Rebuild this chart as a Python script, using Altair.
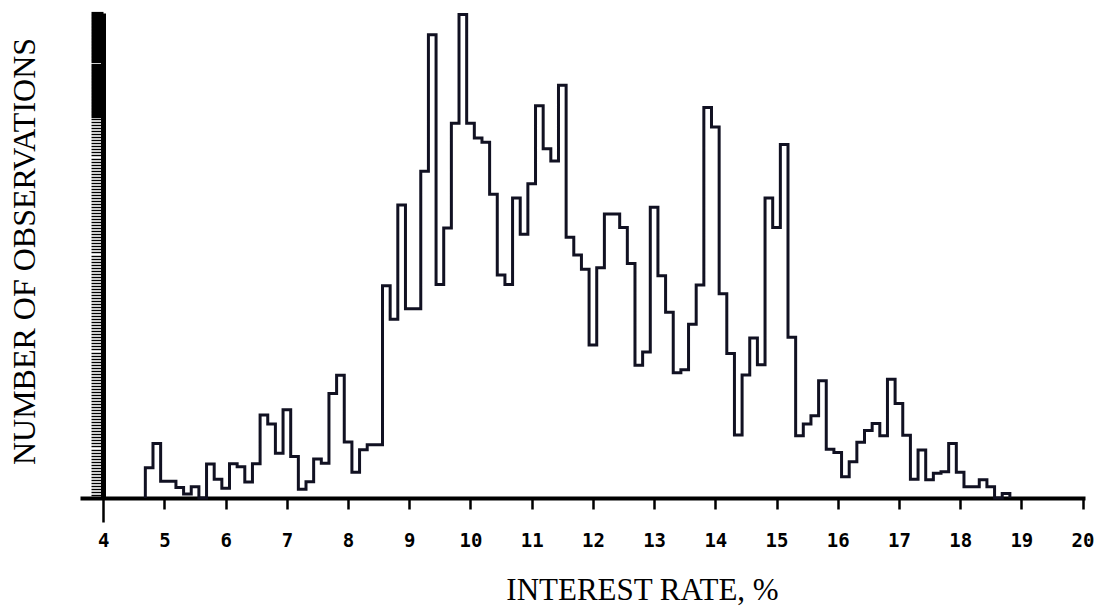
import altair as alt
import pandas as pd

# Histogram of interest rates: bins of 1/8 percent, centred on eighths
first_bin_center = 4.75
bin_width = 0.125
counts = [10, 18, 5.5, 5.5, 3.5, 1.3, 3.7, 0, 11.2, 6.2, 3.2, 11.3, 10.3, 5.3, 11.3,
          27.4, 24.4, 14.8, 29.1, 13.7, 2.9, 5.4, 12.9, 11.5, 34.5, 40.5, 18.5, 8.5,
          15.9, 17.6, 17.6, 70, 59, 96.7, 62.4, 62.4, 107.8, 152.8, 70.4, 89.1, 123.6,
          159.5, 123.6, 118.8, 117.4, 100.2, 73.6, 70.4, 99, 87, 103.7, 129.4, 115.2,
          111.2, 136.2, 86, 80.2, 75.5, 50.5, 76, 93.7, 93.7, 89.2, 77.4, 43.8, 48.2,
          95.9, 73.3, 61.3, 41.3, 42.3, 57.3, 70.3, 128.8, 122.4, 67.4, 47.7, 20.8,
          40.6, 52.8, 44, 99, 89.2, 116.6, 53, 20.5, 24.4, 27.1, 38.7, 16.1, 15, 7, 12,
          18.4, 22.3, 24.6, 20.5, 39.2, 31.2, 20.7, 6.2, 15.8, 6, 8.2, 8.7, 18, 8.5,
          3.7, 3.7, 6, 3.7, 0, 1.5]
x_ticks = list(range(4, 21))
y_ticks = list(range(0, 161))

# build the outline of the step histogram
left_edges = [first_bin_center + i * bin_width - bin_width / 2 for i in range(len(counts))]
rows = [{"rate": left_edges[0], "n": 0, "k": 0}]
for i, (e, c) in enumerate(zip(left_edges, counts)):
    rows.append({"rate": e, "n": c, "k": i + 1})
rows.append({"rate": left_edges[-1] + bin_width, "n": 0, "k": len(counts) + 1})
df = pd.DataFrame(rows)

chart = alt.Chart(df).mark_line(
    interpolate="step-after", color="#111122", strokeWidth=3, strokeJoin="miter"
).encode(
    x=alt.X("rate:Q",
            scale=alt.Scale(domain=[3.62, 20.04], nice=False, zero=False),
            axis=alt.Axis(values=x_ticks, format="d", title="INTEREST RATE, %",
                          domainColor="black", domainWidth=4,
                          tickColor="black", tickWidth=2.5,
                          tickSize={"condition": {"test": "datum.value == 4", "value": 24}, "value": 11},
                          labelFont="DejaVu Sans Mono", labelFontWeight="bold",
                          labelFontSize=19, labelColor="black",
                          labelPadding={"condition": {"test": "datum.value == 4", "value": 9}, "value": 22},
                          labelFlush=False, grid=False,
                          titleFont="Liberation Serif", titleFontSize=31,
                          titleFontWeight="normal", titleColor="black",
                          titleX=562, titleY=101, titleAlign="center",
                          titleBaseline="alphabetic")),
    y=alt.Y("n:Q",
            scale=alt.Scale(domain=[0, 160], nice=False),
            axis=alt.Axis(values=y_ticks, labels=False, offset=-23,
                          domainColor="black", domainWidth=5,
                          tickColor="black", tickSize=12,
                          tickWidth={"condition": {"test": "datum.value >= 126", "value": 3.2}, "value": 1.4},
                          grid=False, title="NUMBER OF OBSERVATIONS",
                          titleFont="Liberation Serif", titleFontSize=32,
                          titleFontWeight="normal", titleColor="black",
                          titleAngle=-90, titleX=-69, titleY=238,
                          titleAlign="center", titleBaseline="alphabetic")),
    order="k:Q",
).properties(
    width=1005, height=485,
    autosize=alt.AutoSizeParams(type="none"),
    padding={"left": 80, "top": 13, "right": 28, "bottom": 114},
    background="white",
).configure_view(stroke=None)

chart.save("out.html", embed_options={"renderer": "svg", "actions": False})
